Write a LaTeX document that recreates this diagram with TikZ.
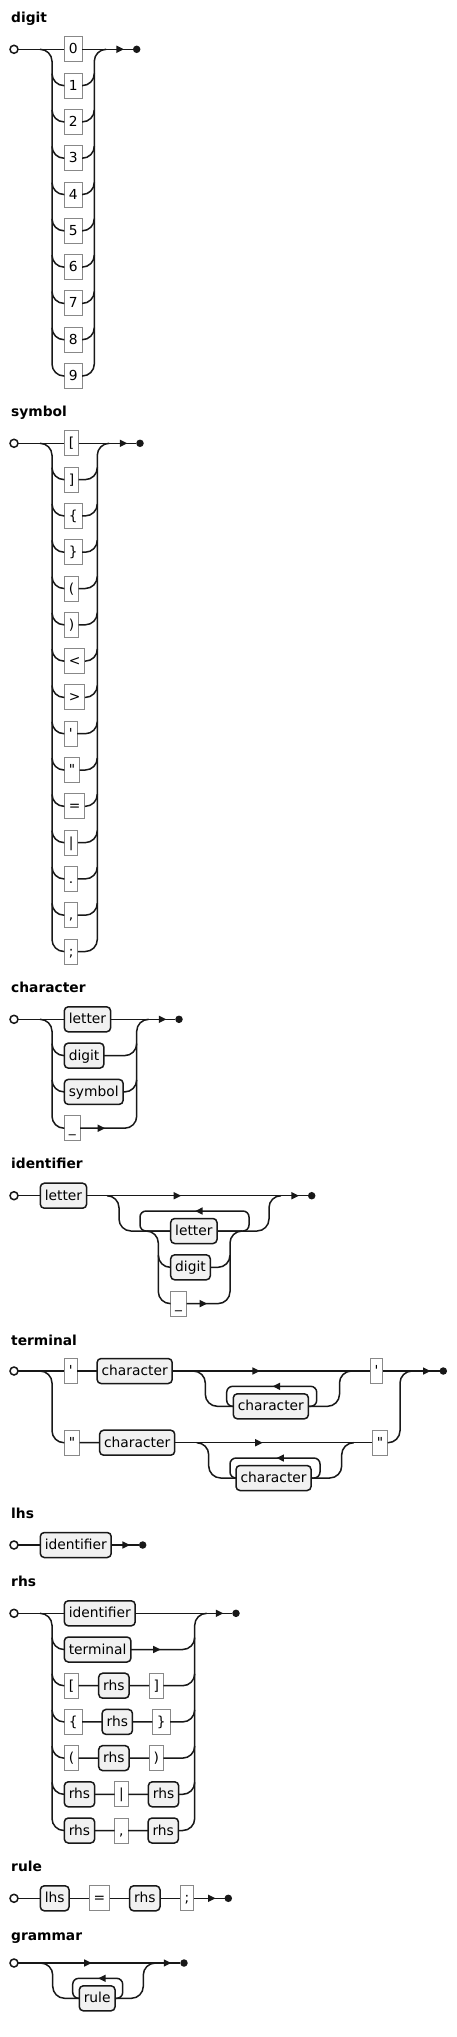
\documentclass[tikz,border=0pt]{standalone}
\usepackage{fontspec}
\setmainfont{DejaVu Sans}
\usetikzlibrary{positioning,arrows.meta,decorations.markings}
\definecolor{railcol}{HTML}{181818}
\definecolor{ntfill}{HTML}{F1F1F1}
\definecolor{tdraw}{HTML}{888888}
\newcommand{\rrfont}{\fontsize{13.8}{16}\selectfont}
\tikzset{
  rail/.style={line width=1.5pt, draw=railcol, rounded corners=12pt},
  loopback/.style={line width=1.5pt, draw=railcol, rounded corners=6pt},
  termbox/.style={draw=tdraw, line width=1pt, fill=white, minimum height=25pt, inner xsep=4.5pt, inner ysep=0pt, outer sep=0pt, text height=10pt, text depth=1pt, anchor=west},
  ntbox/.style={draw=railcol, line width=1.5pt, fill=ntfill, rounded corners=4pt, minimum height=25pt, inner xsep=4.5pt, inner ysep=0pt, outer sep=0pt, text height=10pt, text depth=1pt, anchor=west},
  rulename/.style={font=\rrfont\bfseries, anchor=base west, inner sep=0pt},
  startdot/.style={circle, draw=railcol, line width=1.5pt, fill=white, minimum size=8pt, inner sep=0pt, outer sep=0pt},
  enddot/.style={circle, fill=railcol, minimum size=7.5pt, inner sep=0pt, outer sep=0pt},
  arrowat/.style={postaction={decorate, decoration={markings, mark=at position #1 with {\arrow{Triangle[length=7.5pt,width=7pt]}}}}},
  endarrow/.style={arrowat=-9pt}
}

\begin{document}
\begin{tikzpicture}[x=1pt, y=-1pt, every node/.style={font=\rrfont}]
  \fill[white] (0,0) rectangle (456,2037);
  \useasboundingbox (0,0) rectangle (456,2037);

  \node[rulename] (hdigit) at (11,23) {digit};
  \node[startdot] (s1) at (14,49.3) {};
  \foreach \k in {0,...,9}
    \node[termbox] (d\k) at (64.3,{49.3+36.3*\k}) {\k};
  \coordinate (dL) at (52,49.3);
  \coordinate (dR) at (94.3,49.3);
  \node[enddot] (e1) at (136.7,49.3) {};
  \draw[rail] (s1) -- (d0);
  \draw[rail, endarrow] (d0) -- (e1);
  \draw[rail] ([xshift=-12pt]dL) -- (dL) -- (dL |- d9) -- (d9);
  \draw[rail] (d9) -- (dR |- d9) -- (dR) -- ([xshift=12pt]dR);
  \foreach \k in {1,...,8} {
    \draw[rail] ([yshift=12pt]dL |- d\k) -- (dL |- d\k) -- (d\k);
    \draw[rail] (d\k) -- (dR |- d\k) -- ([yshift=12pt]dR |- d\k);
  }

  \node[rulename] (hsym) at (11,416.7) {symbol};
  \node[startdot] (s2) at (14,443.3) {};
  \foreach \s [count=\k from 0] in {{[},{]},{\{},{\}},{(},{)},{<},{>},{\textquotesingle},{\textquotedbl},{=},{\textbar},{.},{,},{;}}
    \node[termbox] (y\k) at (64.3,{443.3+36.3*\k}) {\s};
  \coordinate (yL) at (52,443.3);
  \coordinate (yR) at (97.3,443.3);
  \node[enddot] (e2) at (140,443.3) {};
  \draw[rail] (s2) -- (y0);
  \draw[rail, endarrow] (y0) -- (e2);
  \draw[rail] ([xshift=-12pt]yL) -- (yL) -- (yL |- y14) -- (y14);
  \draw[rail] (y14) -- (yR |- y14) -- (yR) -- ([xshift=12pt]yR);
  \foreach \k in {1,...,13} {
    \draw[rail] ([yshift=12pt]yL |- y\k) -- (yL |- y\k) -- (y\k);
    \draw[rail] (y\k) -- (yR |- y\k) -- ([yshift=12pt]yR |- y\k);
  }

  \node[rulename] (hchar) at (11,992.7) {character};
  \node[startdot] (s3) at (14,1019.3) {};
  \node[ntbox] (c0) at (64.3,1019.3) {letter};
  \node[ntbox] (c1) at (64.3,1055.6) {digit};
  \node[ntbox] (c2) at (64.3,1091.9) {symbol};
  \node[termbox] (c3) at (64.3,1128.2) {\_};
  \coordinate (cL) at (52,1019.3);
  \coordinate (cR) at (136.7,1019.3);
  \node[enddot] (e3) at (179,1019.3) {};
  \draw[rail] (s3) -- (c0);
  \draw[rail, endarrow] (c0) -- (e3);
  \draw[rail] ([xshift=-12pt]cL) -- (cL) -- (cL |- c3) -- (c3);
  \draw[rail, arrowat=25pt] (c3) -- (cR |- c3) -- (cR) -- ([xshift=12pt]cR);
  \foreach \k in {1,2} {
    \draw[rail] ([yshift=12pt]cL |- c\k) -- (cL |- c\k) -- (c\k);
    \draw[rail] (c\k) -- (cR |- c\k) -- ([yshift=12pt]cR |- c\k);
  }

  \node[rulename] (hident) at (11,1168.3) {identifier};
  \node[startdot] (s4) at (14,1195.7) {};
  \node[ntbox] (i1) at (40.3,1195.7) {letter};
  \node[ntbox] (i2) at (170.7,1231) {letter};
  \node[ntbox] (i3) at (170.7,1267.3) {digit};
  \node[termbox] (i4) at (170.7,1303.6) {\_};
  \node[enddot] (e4) at (311.7,1195.7) {};
  \coordinate (iL) at (119,1195.7);
  \coordinate (iR) at (269,1195.7);
  \coordinate (iCL) at (158.3,1231);
  \coordinate (iCR) at (230,1231);
  \coordinate (iLT) at (140,1211);
  \coordinate (iRT) at (249,1211);
  \draw[rail] (s4) -- (i1);
  \draw[rail, arrowat=94.6pt, endarrow] (i1) -- (e4);
  \draw[rail] ([xshift=-12pt]iL) -- (iL) -- (iL |- i2) -- (i2);
  \draw[rail] (i2) -- (iR |- i2) -- (iR) -- ([xshift=12pt]iR);
  \draw[rail] ([xshift=-12pt]iCL) -- (iCL) -- (iCL |- i4) -- (i4);
  \draw[rail] ([yshift=12pt]iCL |- i3) -- (iCL |- i3) -- (i3);
  \draw[rail, arrowat=20.6pt] (i4) -- (iCR |- i4) -- (iCR) -- ([xshift=12pt]iCR);
  \draw[rail] (i3) -- (iCR |- i3) -- ([yshift=12pt]iCR |- i3);
  \draw[loopback, arrowat=0.5] (i2.east) -- (iRT |- i2) -- (iRT) -- (iLT) -- (iLT |- i2) -- (i2.west);

  \node[rulename] (hterm) at (11,1345) {terminal};
  \node[startdot] (s5) at (14,1371) {};
  \node[termbox] (q1) at (64.3,1371) {\textquotesingle};
  \node[ntbox, right=20pt of q1] (q2) {character};
  \node[ntbox] (q3) at (233.3,1406.3) {character};
  \node[termbox] (q4) at (370,1371) {\textquotesingle};
  \node[termbox] (w1) at (64.3,1442.7) {\textquotedbl};
  \node[ntbox, right=20pt of w1] (w2) {character};
  \node[ntbox] (w3) at (236,1478) {character};
  \node[termbox] (w4) at (372.3,1442.7) {\textquotedbl};
  \node[enddot] (e5) at (443.3,1371) {};
  \coordinate (tL) at (52,1371);
  \coordinate (tR) at (400,1371);
  \coordinate (qL) at (205.3,1371);
  \coordinate (qR) at (339.5,1371);
  \coordinate (qLT) at (226.7,1386.3);
  \coordinate (qRT) at (316.7,1386.3);
  \coordinate (wL) at (208.7,1442.7);
  \coordinate (wR) at (341.7,1442.7);
  \coordinate (wLT) at (230,1458);
  \coordinate (wRT) at (320,1458);
  \draw[rail] (s5) -- (q1) -- (q2);
  \draw[rail, arrowat=87.7pt] (q2) -- (q4);
  \draw[rail, endarrow] (q4) -- (e5);
  \draw[rail] ([xshift=-12pt]qL) -- (qL) -- (qL |- q3) -- (q3);
  \draw[rail] (q3) -- (qR |- q3) -- (qR) -- ([xshift=12pt]qR);
  \draw[loopback, arrowat=0.5] (q3.east) -- (qRT |- q3) -- (qRT) -- (qLT) -- (qLT |- q3) -- (q3.west);
  \draw[rail] ([xshift=-12pt]tL) -- (tL) -- (tL |- w1) -- (w1) -- (w2);
  \draw[rail, arrowat=88pt] (w2) -- (w4);
  \draw[rail] (w4) -- (tR |- w4) -- (tR) -- ([xshift=12pt]tR);
  \draw[rail] ([xshift=-12pt]wL) -- (wL) -- (wL |- w3) -- (w3);
  \draw[rail] (w3) -- (wR |- w3) -- (wR) -- ([xshift=12pt]wR);
  \draw[loopback, arrowat=0.5] (w3.east) -- (wRT |- w3) -- (wRT) -- (wLT) -- (wLT |- w3) -- (w3.west);

  \node[rulename] (hlhs) at (11,1518.3) {lhs};
  \node[startdot] (s6) at (14,1545) {};
  \node[ntbox] (l1) at (40.3,1545) {identifier};
  \node[enddot] (e6) at (142.7,1545) {};
  \draw[rail] (s6) -- (l1);
  \draw[rail, endarrow] (l1) -- (e6);

  \node[rulename] (hrhs) at (11,1586.7) {rhs};
  \node[startdot] (s7) at (14,1613.3) {};
  \node[ntbox] (r0) at (64.3,1613.3) {identifier};
  \node[ntbox] (r1) at (64.3,1649.5) {terminal};
  \node[termbox] (r2a) at (64.3,1685.7) {[};
  \node[ntbox, right=20pt of r2a] (r2b) {rhs};
  \node[termbox, right=20pt of r2b] (r2c) {]};
  \node[termbox] (r3a) at (64.3,1721.9) {\{};
  \node[ntbox, right=20pt of r3a] (r3b) {rhs};
  \node[termbox, right=20pt of r3b] (r3c) {\}};
  \node[termbox] (r4a) at (64.3,1758.1) {(};
  \node[ntbox, right=20pt of r4a] (r4b) {rhs};
  \node[termbox, right=20pt of r4b] (r4c) {)};
  \node[ntbox] (r5a) at (64.3,1794.3) {rhs};
  \node[termbox, right=20pt of r5a] (r5b) {\textbar};
  \node[ntbox, right=20pt of r5b] (r5c) {rhs};
  \node[ntbox] (r6a) at (64.3,1830.5) {rhs};
  \node[termbox, right=20pt of r6a] (r6b) {,};
  \node[ntbox, right=20pt of r6b] (r6c) {rhs};
  \node[enddot] (e7) at (236,1613.3) {};
  \coordinate (rL) at (52,1613.3);
  \coordinate (rR) at (194.7,1613.3);
  \draw[rail] (s7) -- (r0);
  \draw[rail, endarrow] (r0) -- (e7);
  \draw[rail] ([xshift=-12pt]rL) -- (rL) -- (rL |- r6a) -- (r6a) -- (r6b) -- (r6c);
  \draw[rail] (r6c) -- (rR |- r6c) -- (rR) -- ([xshift=12pt]rR);
  \draw[rail] ([yshift=12pt]rL |- r1) -- (rL |- r1) -- (r1);
  \draw[rail, arrowat=29.7pt] (r1) -- (rR |- r1) -- ([yshift=12pt]rR |- r1);
  \foreach \k in {2,...,5} {
    \draw[rail] ([yshift=12pt]rL |- r\k a) -- (rL |- r\k a) -- (r\k a) -- (r\k b) -- (r\k c);
    \draw[rail] (r\k c) -- (rR |- r\k c) -- ([yshift=12pt]rR |- r\k c);
  }

  \node[rulename] (hrule) at (11,1871.7) {rule};
  \node[startdot] (s8) at (14,1898.3) {};
  \node[ntbox] (u1) at (40.3,1898.3) {lhs};
  \node[termbox, right=20pt of u1] (u2) {=};
  \node[ntbox, right=20pt of u2] (u3) {rhs};
  \node[termbox, right=20pt of u3] (u4) {;};
  \node[enddot] (e8) at (228.3,1898.3) {};
  \draw[rail] (s8) -- (u1) -- (u2) -- (u3) -- (u4);
  \draw[rail, endarrow] (u4) -- (e8);

  \node[rulename] (hgram) at (11,1940) {grammar};
  \node[startdot] (s9) at (14,1963) {};
  \node[ntbox] (g1) at (79.3,1998.3) {rule};
  \node[enddot] (e9) at (184,1963) {};
  \coordinate (gL) at (52.7,1963);
  \coordinate (gR) at (143.3,1963);
  \coordinate (gLT) at (72.7,1978.3);
  \coordinate (gRT) at (122.7,1978.3);
  \draw[rail, arrowat=73.7pt, endarrow] (s9) -- (e9);
  \draw[rail] ([xshift=-12pt]gL) -- (gL) -- (gL |- g1) -- (g1);
  \draw[rail] (g1) -- (gR |- g1) -- (gR) -- ([xshift=12pt]gR);
  \draw[loopback, arrowat=0.5] (g1.east) -- (gRT |- g1) -- (gRT) -- (gLT) -- (gLT |- g1) -- (g1.west);
\end{tikzpicture}
\end{document}
